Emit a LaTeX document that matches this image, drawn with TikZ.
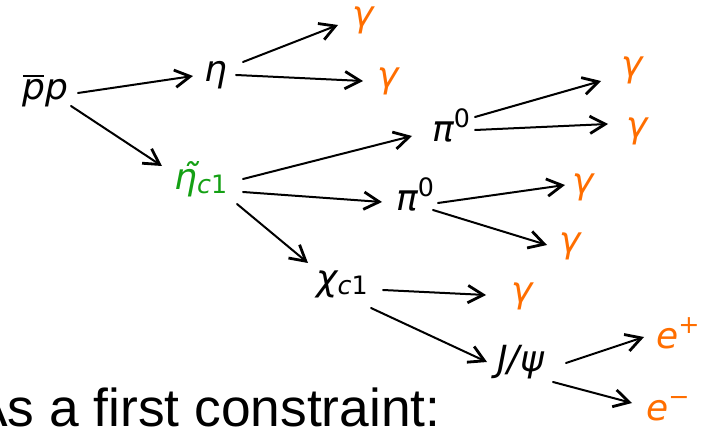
\documentclass[tikz,border=0pt]{standalone}
\usepackage{fontspec}
\setmainfont{DejaVu Sans}
\newfontfamily\arialf{Liberation Sans}
\usetikzlibrary{arrows.meta}
\definecolor{phot}{RGB}{255,110,0}
\definecolor{grn}{RGB}{20,160,20}
\newcommand{\mainsz}{\fontsize{27}{32}\selectfont}
\newcommand{\supx}[1]{\raisebox{11pt}{\fontsize{19}{22}\selectfont\upshape #1}}
\newcommand{\subx}[1]{\raisebox{-3pt}{\fontsize{19}{22}\selectfont #1}}
\newcommand{\pbarx}{\rlap{\hspace{0.5pt}\rule[17.5pt]{16pt}{1.4pt}}p}
\newcommand{\conn}[4]{\draw[arr] ([shift={(#2)}]#1.base west) -- ([shift={(#4)}]#3.base west);}
\begin{document}
\begin{tikzpicture}[x=0.75pt,y=-0.75pt,
  lbl/.style={anchor=base west,inner sep=0pt,font=\mainsz\itshape},
  ph/.style={lbl,text=phot},
  arr/.style={line width=1.5pt,line cap=round,line join=round,
    -{Straight Barb[length=11.5pt,width=13pt,line width=2.1pt]}}]
\useasboundingbox (0,0) rectangle (702,427);
\clip (0,0) rectangle (702,427);
% nodes
\node[lbl] (pp) at (22,100) {\pbarx p};
\node[lbl] (eta) at (204,82) {η};
\node[ph] (g1) at (352,27) {γ};
\node[ph] (g2) at (377,88) {γ};
\node[lbl,text=grn] (etac) at (174,190) {η̃\subx{c\upshape 1}};
\node[lbl] (pi1) at (432,142) {π\supx{0}};
\node[ph] (g3) at (621,77) {γ};
\node[ph] (g4) at (626,138) {γ};
\node[lbl] (pi2) at (396,211) {π\supx{0}};
\node[ph] (g5) at (572,194) {γ};
\node[ph] (g6) at (559,253) {γ};
\node[lbl] (chi) at (316,291) {χ\subx{c\upshape 1}};
\node[ph] (g7) at (511,302) {γ};
\node[lbl] (jpsi) at (497,371) {J/ψ};
\node[ph] (ep) at (656,348) {e\supx{+}};
\node[ph] (em) at (646,420) {e\supx{−}};
\node[anchor=base west,inner sep=0pt,font=\arialf\fontsize{40}{48}\selectfont] (cap) at (-28,426) {As a first constraint:};
% connectors
\conn{pp}{56,-7}{eta}{-11,-6}
\conn{pp}{49,6}{etac}{-12,-24}
\conn{eta}{39,-20}{g1}{-14,-2}
\conn{eta}{32,-7}{g2}{-14,-7}
\conn{etac}{69,-11}{pi1}{-20,-6}
\conn{etac}{69,2}{pi2}{-14,-9}
\conn{etac}{63,14}{chi}{-8,-28}
\conn{pi1}{43,-25}{g3}{-20,4}
\conn{pi1}{43,-12}{g4}{-18,-14}
\conn{pi2}{42,-8}{g5}{-7,-9}
\conn{pi2}{37,-1}{g6}{-12,-8}
\conn{chi}{67,-1}{g7}{-25,-7}
\conn{chi}{55,17}{jpsi}{-10,-9}
\conn{jpsi}{69,-8}{ep}{-12,-11}
\conn{jpsi}{56,11}{em}{-14,-17}
\end{tikzpicture}
\end{document}
